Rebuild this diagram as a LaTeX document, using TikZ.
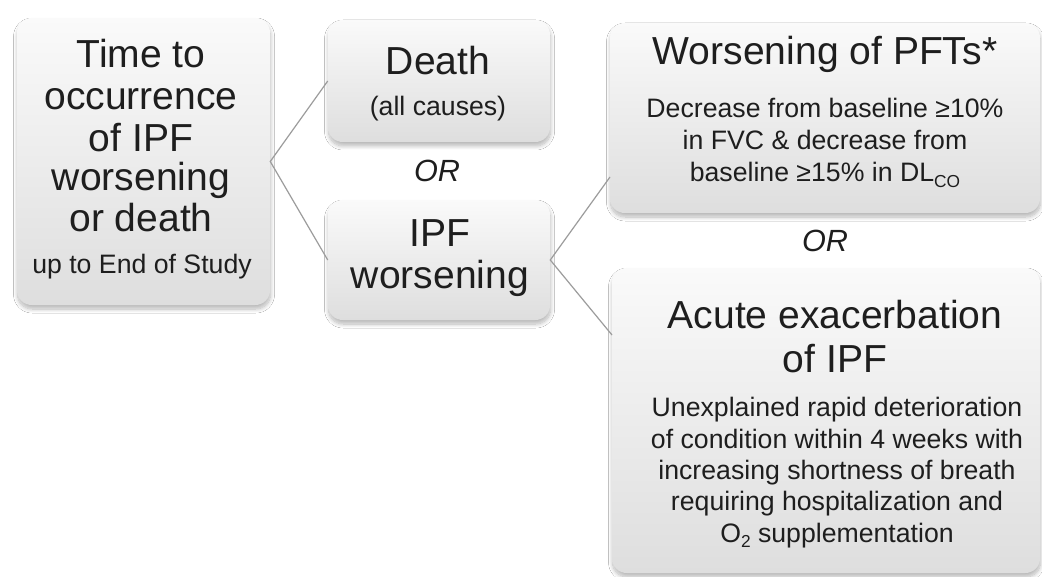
\documentclass[tikz,border=0pt]{standalone}
\usepackage{fontspec}
\setmainfont{Liberation Sans}
\usetikzlibrary{shadows.blur}
\definecolor{txt}{HTML}{1E1E1E}
\definecolor{lnc}{HTML}{9C9C9C}
\definecolor{boxbot}{HTML}{DEDEDE}
\tikzset{
  boxst/.style={rectangle, rounded corners=11pt, inner sep=0pt, draw=none,
    top color=white!98!black, bottom color=boxbot,
    blur shadow={shadow blur steps=10, shadow xshift=0.4pt, shadow yshift=-3pt, shadow opacity=28, shadow blur radius=3pt}},
  bigt/.style={anchor=base, inner sep=0pt, text=txt, font=\fontsize{29.3}{31}\selectfont},
  smallt/.style={anchor=base, inner sep=0pt, text=txt, font=\fontsize{20}{24}\selectfont},
  ort/.style={anchor=base, inner sep=0pt, text=txt, font=\fontsize{23}{26}\selectfont\itshape},
  conn/.style={draw=lnc, line width=0.9pt}
}
\begin{document}
\begin{tikzpicture}[x=0.75pt,y=-0.75pt]
\useasboundingbox[fill=white] (0,0) rectangle (1042,577);
% boxes
\node[boxst, minimum width=189.75pt, minimum height=215.25pt] (boxA) at (143.5,161.5) {};
\node[boxst, minimum width=166.5pt, minimum height=91.5pt] (death) at (439,81) {};
\node[boxst, minimum width=166.5pt, minimum height=90pt] (ipf) at (439,260) {};
\node[boxst, minimum width=322.5pt, minimum height=142.5pt] (pft) at (825,118) {};
\node[boxst, minimum width=321pt, minimum height=228.75pt] (acute) at (826,420.5) {};
% connector end points on the right-hand boxes
\coordinate (pftend) at (610,177);
\coordinate (acuteend) at (612,335);
\draw[conn] (death.west) -- (boxA.east) -- (ipf.west);
\draw[conn] (pftend) -- (ipf.east) -- (acuteend);
% text of left box
\node[bigt] (a1) at (141,68) {Time to};
\node[bigt] (a2) at (141,110) {occurrence};
\node[bigt] (a3) at (141,152) {of IPF};
\node[bigt] (a4) at (141,191) {worsening};
\node[bigt] (a5) at (141,232) {or death};
\node[smallt] (a6) at (142,273) {up to End of Study};
% death
\node[bigt] (d1) at (438,75) {Death};
\node[smallt] (d2) at (438,116) {(all causes)};
\node[ort] (or1) at (437,182) {OR};
% IPF worsening
\node[bigt] (i1) at (440,247) {IPF};
\node[bigt] (i2) at (440,288) {worsening};
% PFTs
\node[bigt] (p1) at (825,65) {Worsening of PFTs*};
\node[smallt] (p2) at (825,118) {Decrease from baseline ≥10\%};
\node[smallt] (p3) at (825,150) {in FVC \& decrease from};
\node[smallt] (p4) at (825,182) {baseline ≥15\% in DL{\fontsize{13}{14}\selectfont\raisebox{-4pt}{CO}}};
\node[ort] (or2) at (825,252) {OR};
% acute
\node[bigt] (e1) at (835,328) {Acute exacerbation};
\node[bigt] (e2) at (835,372) {of IPF};
\node[smallt] (e3) at (837,416) {Unexplained rapid deterioration};
\node[smallt] (e4) at (837,448) {of condition within 4 weeks with};
\node[smallt] (e5) at (837,479) {increasing shortness of breath};
\node[smallt] (e6) at (837,510) {requiring hospitalization and};
\node[smallt] (e7) at (837,542) {O{\fontsize{13}{14}\selectfont\raisebox{-4pt}{2}} supplementation};
\end{tikzpicture}
\end{document}
